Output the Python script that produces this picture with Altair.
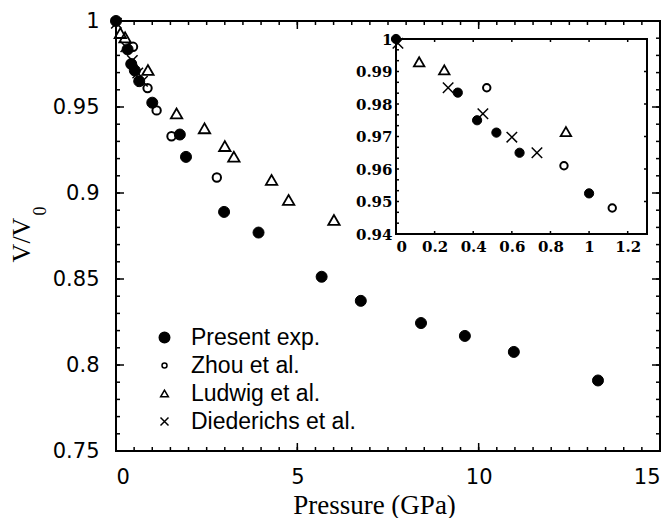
import altair as alt
import pandas as pd

# ---------------- data ----------------
series_names = ["Present exp.", "Zhou et al.", "Ludwig et al.", "Diederichs et al."]

present_p = [0.0, 0.32, 0.42, 0.52, 0.64, 1.0, 1.76, 1.93, 2.98, 3.93, 5.67, 6.75, 8.41, 9.62, 10.97, 13.29]
present_v = [1.0, 0.9835, 0.975, 0.9712, 0.965, 0.9525, 0.934, 0.921, 0.889, 0.877, 0.8513, 0.8373, 0.8244, 0.8169, 0.8076, 0.791]

zhou_p = [0.47, 0.87, 1.12, 1.53, 2.78]
zhou_v = [0.985, 0.961, 0.948, 0.933, 0.909]

ludwig_p = [0.12, 0.25, 0.88, 1.67, 2.44, 3.0, 3.25, 4.29, 4.76, 6.01]
ludwig_v = [0.993, 0.9905, 0.9715, 0.9463, 0.9376, 0.9273, 0.9211, 0.9076, 0.896, 0.8843]

died_p = [0.01, 0.27, 0.45, 0.6, 0.73]
died_v = [0.9987, 0.985, 0.977, 0.9698, 0.965]

# axis labels / tick positions
main_x_labels = [0, 5, 10, 15]
main_y_labels = [0.75, 0.8, 0.85, 0.9, 0.95, 1.0]
inset_x_labels = [0, 0.2, 0.4, 0.6, 0.8, 1.0, 1.2]
inset_y_labels = [0.94, 0.95, 0.96, 0.97, 0.98, 0.99, 1.0]
minor_x = [i * 0.5 for i in range(31)]
minor_y = [round(0.75 + i * 0.01, 2) for i in range(26)]
inset_minor_y = [round(0.94 + i * 0.01 / 3, 5) for i in range(19)]

MAIN_X_DOM, MAIN_Y_DOM = [0, 15], [0.75, 1.0]
INS_X_DOM, INS_Y_DOM = [0, 1.3], [0.94, 1.0]

# ---------------- layout ----------------
W, H = 544, 430
IX0, IX1 = 280, 531      # inset frame (pixels inside plot area)
IY0, IY1 = 18, 213

guide_syms = ["tick_up", "tick_dn", "tick_rt", "tick_lt", "frame"]
sym_domain = series_names + guide_syms
_r = round((IY1 - IY0) / (IX1 - IX0), 4)
sym_range = ["circle", "circle", "triangle-up", "M-1,-1L1,1M-1,1L1,-1",
             "M0,0L0,-1", "M0,0L0,1", "M0,0L1,0", "M0,0L-1,0",
             f"M-1,-{_r}L1,-{_r}L1,{_r}L-1,{_r}Z"]

# ---------------- table ----------------
rows = []
for name, ps, vs in zip(series_names,
                        [present_p, zhou_p, ludwig_p, died_p],
                        [present_v, zhou_v, ludwig_v, died_v]):
    for p, v in zip(ps, vs):
        rows.append({"series": name, "sym": name, "P": p, "V": v, "kind": "pt", "major": False})
df = pd.DataFrame(rows)

guide = []


def add(kind, p, v, sym, major):
    guide.append({"series": "guide", "sym": sym, "P": p, "V": v, "kind": kind, "major": major})


for x in minor_x:
    add("mtick", x, MAIN_Y_DOM[0], "tick_up", False)
    add("mtick", x, MAIN_Y_DOM[1], "tick_dn", False)
for x in main_x_labels:
    add("mtick", x, MAIN_Y_DOM[0], "tick_up", True)
    add("mtick", x, MAIN_Y_DOM[1], "tick_dn", True)
for y in minor_y:
    add("mtick", MAIN_X_DOM[0], y, "tick_rt", False)
    add("mtick", MAIN_X_DOM[1], y, "tick_lt", False)
for y in main_y_labels:
    add("mtick", MAIN_X_DOM[0], y, "tick_rt", True)
    add("mtick", MAIN_X_DOM[1], y, "tick_lt", True)
add("iframe", sum(INS_X_DOM) / 2, sum(INS_Y_DOM) / 2, "frame", False)
for x in inset_x_labels:
    add("itick", x, INS_Y_DOM[0], "tick_up", False)
    add("itick", x, INS_Y_DOM[1], "tick_dn", False)
for y in inset_minor_y:
    add("itick", INS_X_DOM[0], y, "tick_rt", False)
for y in inset_y_labels:
    add("itick", INS_X_DOM[1], y, "tick_lt", False)

table = pd.concat([df, pd.DataFrame(guide)], ignore_index=True)

XM = alt.Scale(domain=MAIN_X_DOM, nice=False, zero=False)
YM = alt.Scale(domain=MAIN_Y_DOM, nice=False, zero=False)
XI = alt.Scale(domain=INS_X_DOM, range=[IX0, IX1], nice=False, zero=False)
YI = alt.Scale(domain=INS_Y_DOM, range=[IY1, IY0], nice=False, zero=False)
shape_scale = alt.Scale(domain=sym_domain, range=sym_range)

TICK_FONT = "DejaVu Sans"
SERIF = "Liberation Serif"


def point_conds(vals):
    return [{"test": f"datum.kind === 'pt' && datum.series === '{n}'", "value": v}
            for n, v in zip(series_names, vals)]


def size_enc(pt_sizes, minor_len, major_len, frame_size=None):
    conds = point_conds(pt_sizes)
    if frame_size:
        conds.insert(0, {"test": "datum.kind === 'iframe'", "value": frame_size})
    conds.append({"test": "datum.major", "value": 4 * major_len ** 2})
    return {"condition": conds, "value": 4 * minor_len ** 2}


def sw_enc(pt_w, tick_w, frame_w=2):
    conds = point_conds(pt_w)
    conds.insert(0, {"test": "datum.kind === 'iframe'", "value": frame_w})
    return {"condition": conds, "value": tick_w}


fill_enc = {"condition": [{"test": "datum.kind === 'pt' && datum.series === 'Present exp.'",
                           "value": "black"}], "value": "transparent"}

legend = alt.Legend(
    title=None, orient="none", legendX=37, legendY=305, padding=0,
    labelFont="Liberation Sans", labelFontSize=23, labelColor="black",
    labelOffset=15, rowPadding=4, labelLimit=400, values=series_names,
    symbolStrokeColor="black", symbolStrokeWidth=1.5,
)

n_g = len(guide_syms)
legend_layer = alt.Chart(df).transform_filter("false").mark_point(
    opacity=1, strokeWidth=1.5
).encode(
    x=alt.X("P:Q", scale=XM, axis=None),
    y=alt.Y("V:Q", scale=YM, axis=None),
    shape=alt.Shape("sym:N", scale=shape_scale, legend=legend),
    fill=alt.Fill("sym:N", scale=alt.Scale(
        domain=sym_domain, range=["black"] + ["transparent"] * (3 + n_g)), legend=legend),
    stroke=alt.Stroke("sym:N", scale=alt.Scale(
        domain=sym_domain, range=["black"] * (4 + n_g)), legend=legend),
    size=alt.Size("sym:N", scale=alt.Scale(
        type="ordinal", domain=sym_domain, range=[110, 25, 60, 64] + [30] * n_g), legend=legend),
)

main_layer = alt.Chart(table).transform_filter(
    "datum.kind === 'pt' || datum.kind === 'mtick'"
).mark_point(stroke="black", opacity=1).encode(
    x=alt.X("P:Q", scale=XM, axis=alt.Axis(
        orient="bottom", values=main_x_labels, ticks=False, domain=False, grid=False,
        labelFont=TICK_FONT, labelFontSize=21, labelPadding=15, labelColor="black",
        title="Pressure (GPa)", titleFont=SERIF, titleFontSize=27,
        titleFontWeight="normal", titleColor="black", titleX=258, titleY=62,
        titleBaseline="alphabetic", titleAlign="center")),
    y=alt.Y("V:Q", scale=YM, axis=alt.Axis(
        orient="left", values=main_y_labels, format="~g", ticks=False,
        domain=False, grid=False, labelFont=TICK_FONT, labelFontSize=21,
        labelPadding=17, labelColor="black", title=None)),
    shape=alt.Shape("sym:N", scale=shape_scale, legend=None),
    fill=fill_enc,
    size=size_enc([121, 70, 130, 110], 4, 8),
    strokeWidth=sw_enc([1, 2, 1.8, 1.5], 1.5),
)

inset_layer = alt.Chart(table).transform_filter(
    "datum.kind === 'iframe' || datum.kind === 'itick' || "
    "(datum.kind === 'pt' && datum.P <= 1.3 && datum.V >= 0.94)"
).mark_point(stroke="black", opacity=1).encode(
    x=alt.X("P:Q", scale=XI, axis=alt.Axis(
        orient="bottom", offset=-(H - IY1), values=inset_x_labels, format="~g",
        ticks=False, grid=False, domain=False,
        labelFont="DejaVu Serif", labelFontWeight="bold", labelFontSize=15,
        labelPadding=5, labelColor="black", title=None)),
    y=alt.Y("V:Q", scale=YI, axis=alt.Axis(
        orient="left", offset=-IX0, values=inset_y_labels, format="~g",
        ticks=False, grid=False, domain=False,
        labelFont="DejaVu Serif", labelFontWeight="bold", labelFontSize=15,
        labelPadding=4, labelColor="black", title=None)),
    shape=alt.Shape("sym:N", scale=shape_scale, legend=None),
    fill=fill_enc,
    size=size_enc([85, 55, 110, 110], 3, 3, frame_size=(IX1 - IX0) ** 2),
    strokeWidth=sw_enc([1, 2, 1.8, 1.5], 1.5, 2),
)

ytitle = alt.Chart(pd.DataFrame({"t": ["V/V"]})).mark_text(
    angle=270, font=SERIF, fontSize=26, align="center", baseline="alphabetic",
    color="black").encode(x=alt.value(-86), y=alt.value(219), text="t:N")
ysub = alt.Chart(pd.DataFrame({"t": ["0"]})).mark_text(
    angle=270, font=SERIF, fontSize=18, align="center", baseline="alphabetic",
    color="black").encode(x=alt.value(-70), y=alt.value(190), text="t:N")

chart = alt.layer(legend_layer, main_layer, inset_layer, ytitle, ysub).resolve_scale(
    x="independent", y="independent"
).resolve_axis(
    x="independent", y="independent"
).properties(
    width=W, height=H,
    autosize=alt.AutoSizeParams(type="none"),
    padding={"left": 116, "top": 21, "right": 7, "bottom": 67},
    background="white",
).configure_view(stroke="black", strokeWidth=2)

chart.save("out.html", embed_options={"renderer": "svg", "actions": False})
